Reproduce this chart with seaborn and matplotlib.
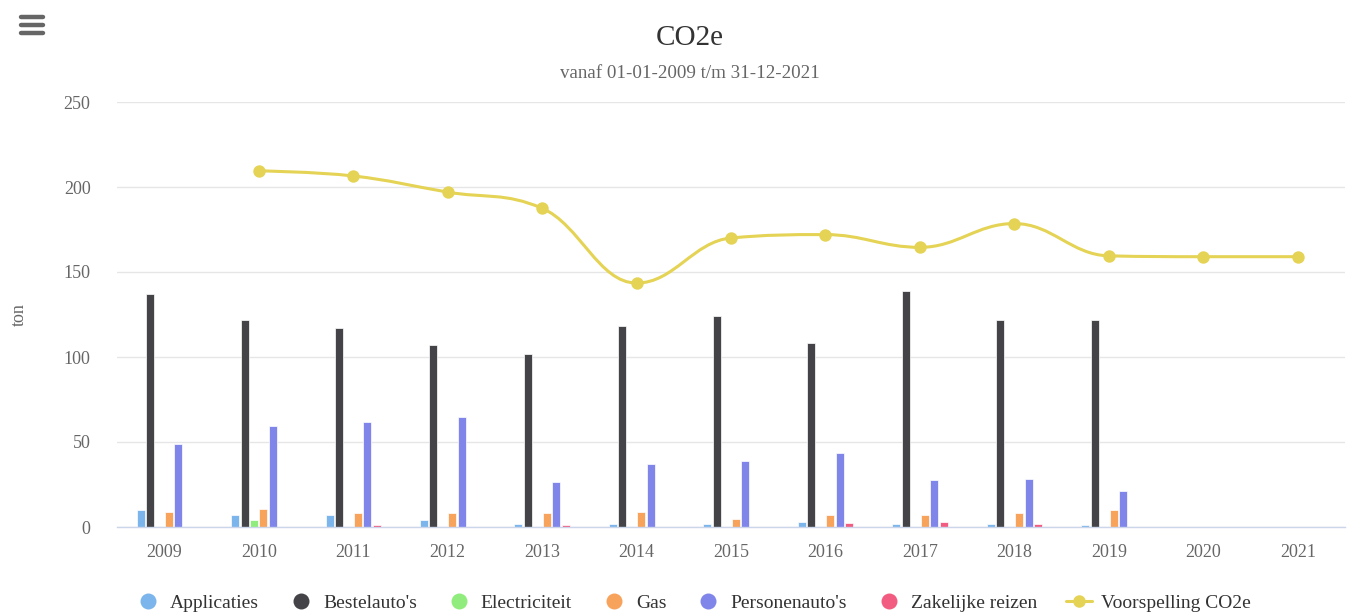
import numpy as np
import pandas as pd
import matplotlib
matplotlib.use("Agg")
import matplotlib.pyplot as plt
from matplotlib.path import Path
from matplotlib.patches import PathPatch
from matplotlib.lines import Line2D
import seaborn as sns

# =========================================
# DATA
# =========================================
jaren = ["2009", "2010", "2011", "2012", "2013", "2014", "2015",
         "2016", "2017", "2018", "2019", "2020", "2021"]

applicaties = [10, 7, 7, 4, 2, 2, 2, 3, 2, 2, 1, 0, 0]
bestelautos = [137, 122, 117, 107, 102, 118, 124, 108, 139, 122, 122, 0, 0]
electriciteit = [0, 4, 0, 0, 0, 0, 0, 0, 0, 0, 0, 0, 0]
gas = [9, 10.5, 8, 8, 8, 9, 5, 7, 7, 8, 10, 0, 0]
personenautos = [49, 59.5, 61.5, 64.5, 26.5, 37, 39, 43.5, 27.5, 28.5, 21, 0, 0]
zakelijke_reizen = [0, 0, 1.2, 0, 1, 0, 0, 2.5, 3, 2, 0, 0, 0]

voorspelling_jaren = jaren[1:]
voorspelling = [209.5, 206.5, 197, 187.5, 143.5, 170, 172, 164.5, 178.5, 159.5, 159, 159]

bronnen = ["Applicaties", "Bestelauto's", "Electriciteit", "Gas",
           "Personenauto's", "Zakelijke reizen"]
kleuren = ["#7cb5ec", "#434348", "#90ed7d", "#f7a35c", "#8085e9", "#f15c80"]
lijn_kleur = "#e4d354"

series = [applicaties, bestelautos, electriciteit, gas, personenautos, zakelijke_reizen]
df = pd.DataFrame({
    "jaar": np.tile(jaren, len(bronnen)),
    "bron": np.repeat(bronnen, len(jaren)),
    "ton": np.concatenate(series),
})

# =========================================
# FIGURE
# =========================================
sns.set_theme(style="white")
plt.rcParams["font.family"] = ["Liberation Serif", "DejaVu Serif"]

fig = plt.figure(figsize=(13.47, 6.14), dpi=100)
ax = fig.add_axes([117 / 1347, 87 / 614, 1228 / 1347, 425 / 614])

sns.barplot(data=df, x="jaar", y="ton", hue="bron", order=jaren, hue_order=bronnen,
            palette=kleuren, width=0.6, gap=0.15, errorbar=None, saturation=1,
            edgecolor="white", linewidth=0.5, legend=False, ax=ax, zorder=3)


# spline like Highcharts (smoothing 1.5)
def spline_path(xs, ys, smoothing=1.5):
    n = len(xs)
    left = [None] * n
    right = [None] * n
    for i in range(1, n - 1):
        lx, ly = xs[i - 1], ys[i - 1]
        nx, ny = xs[i + 1], ys[i + 1]
        px, py = xs[i], ys[i]
        d = smoothing + 1
        lcx, lcy = (smoothing * px + lx) / d, (smoothing * py + ly) / d
        rcx, rcy = (smoothing * px + nx) / d, (smoothing * py + ny) / d
        if rcx != lcx:
            corr = ((rcy - lcy) * (rcx - px)) / (rcx - lcx) + py - rcy
            lcy += corr
            rcy += corr
        if lcy > ly and lcy > py:
            lcy = max(ly, py); rcy = 2 * py - lcy
        elif lcy < ly and lcy < py:
            lcy = min(ly, py); rcy = 2 * py - lcy
        if rcy > ny and rcy > py:
            rcy = max(ny, py); lcy = 2 * py - rcy
        elif rcy < ny and rcy < py:
            rcy = min(ny, py); lcy = 2 * py - rcy
        left[i] = (lcx, lcy)
        right[i] = (rcx, rcy)
    verts = [(xs[0], ys[0])]
    codes = [Path.MOVETO]
    for i in range(1, n):
        c1 = right[i - 1] or (xs[i - 1], ys[i - 1])
        c2 = left[i] or (xs[i], ys[i])
        verts += [c1, c2, (xs[i], ys[i])]
        codes += [Path.CURVE4] * 3
    return Path(verts, codes)


vx = [jaren.index(j) for j in voorspelling_jaren]
ax.add_patch(PathPatch(spline_path(vx, voorspelling), facecolor="none",
                       edgecolor=lijn_kleur, lw=2.2, zorder=4, capstyle="round"))
sns.scatterplot(x=vx, y=voorspelling, color=lijn_kleur, s=80, edgecolor=lijn_kleur,
                linewidth=0, zorder=5, ax=ax, legend=False)

# axes styling
ax.set_ylim(0, 250)
ax.set_xlim(-0.5, len(jaren) - 0.5)
ax.set_yticks([0, 50, 100, 150, 200, 250])
ax.yaxis.grid(True, color="#e6e6e6", lw=1)
ax.set_axisbelow(True)
for s in ["top", "right", "left"]:
    ax.spines[s].set_visible(False)
ax.spines["bottom"].set_color("#ccd6eb")
ax.spines["bottom"].set_linewidth(1)
ax.spines["bottom"].set_zorder(6)

ax.set_xticks(np.arange(-0.5, len(jaren)), minor=True)
ax.tick_params(axis="x", which="minor", length=11, color="#ccd6eb", width=1)
ax.tick_params(axis="x", which="major", length=0, pad=12, labelsize=13, labelcolor="#666666")
ax.tick_params(axis="y", length=0, pad=19, labelsize=13, labelcolor="#666666")
ax.set_xlabel("")
ax.set_ylabel("ton", fontsize=13, color="#666666")
ax.yaxis.set_label_coords(-89 / 1228, 0.5)

# titles
cx = 690 / 1347
fig.text(cx, 1 - 38 / 614, "CO2e", ha="center", va="center", fontsize=21, color="#333333")
fig.text(cx, 1 - 73 / 614, "vanaf 01-01-2009 t/m 31-12-2021", ha="center", va="center",
         fontsize=13.7, color="#666666")

# menu icon
for yy in [17, 25, 33]:
    fig.add_artist(Line2D([21 / 1347, 43 / 1347], [1 - yy / 614] * 2, color="#666666",
                          lw=3.2, solid_capstyle="round"))

# legend
handles = [Line2D([], [], marker="o", ls="none", markersize=11.5, color=c,
                  markeredgewidth=0) for c in kleuren]
handles.append(Line2D([], [], marker="o", ls="-", lw=2.2, markersize=9, color=lijn_kleur,
                      markeredgewidth=0))
fig.legend(handles, bronnen + ["Voorspelling CO2e"], loc="center",
           bbox_to_anchor=(693 / 1347, 1 - 603 / 614), ncol=7, frameon=False, fontsize=14,
           handlelength=1.3, handletextpad=0.49, columnspacing=1.5, labelcolor="#333333")

fig.savefig("out.png", dpi=100)
